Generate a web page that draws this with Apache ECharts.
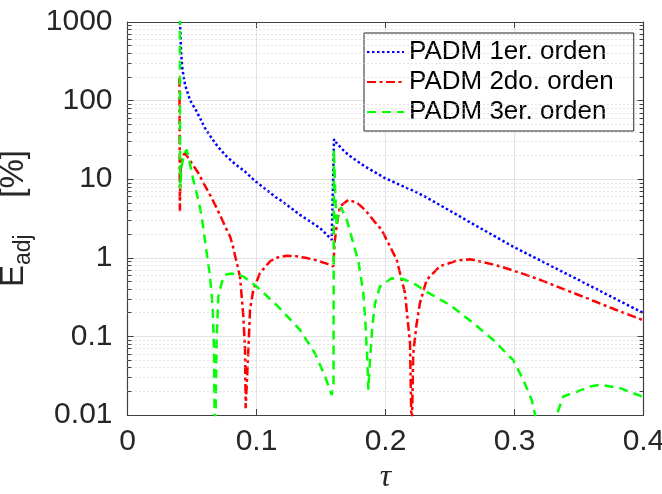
<!DOCTYPE html>
<html><head><meta charset="utf-8">
<script src="https://cdn.jsdelivr.net/npm/echarts@6/dist/echarts.min.js"></script>
<style>html,body{margin:0;padding:0;background:#fff}#c{width:662px;height:494px}</style>
</head><body><div id="c"></div>
<script>
// ---------- data ----------
const seriesNames = ['PADM 1er. orden', 'PADM 2do. orden', 'PADM 3er. orden'];

const blueX = [0.0407, 0.0415, 0.0425, 0.0446, 0.0484, 0.0536, 0.0601, 0.0678, 0.0756, 0.0830, 0.0911, 0.0988, 0.1065, 0.1143, 0.1182, 0.1260, 0.1337, 0.1415, 0.1492, 0.1540, 0.1583, 0.1597,
  0.1601, 0.1620, 0.1660, 0.1712, 0.1780, 0.1841, 0.1920, 0.1996, 0.2110, 0.2229, 0.2319, 0.2500, 0.2758, 0.2988, 0.3250, 0.3500, 0.3750, 0.4000];
const blueY = [1000, 421, 256, 159, 102, 72.7, 44.7, 28.8, 20.4, 15.8, 12.5, 9.5, 7.6, 6.0, 5.47, 4.4, 3.52, 2.9, 2.39, 2.0, 1.69, 1.62,
  32.4, 29, 24.5, 20.4, 17, 14.5, 12.2, 10.3, 8.5, 6.98, 5.85, 3.96, 2.27, 1.39, 0.84, 0.52, 0.32, 0.198];

const redX = [0.0403, 0.0406, 0.0410, 0.0420, 0.0446, 0.0500, 0.0549, 0.0600, 0.0640, 0.0680, 0.0717, 0.0760, 0.0795, 0.0815, 0.0833, 0.0852, 0.0872, 0.0898, 0.0911, 0.0916, 0.0937, 0.0950, 0.0975, 0.1027, 0.1105, 0.1170, 0.1234, 0.1300, 0.1380, 0.1453, 0.1530, 0.1596,
  0.1605, 0.1625, 0.1647, 0.1712, 0.1780, 0.1841, 0.1910, 0.1970, 0.2030, 0.2087, 0.2151, 0.2190, 0.2203, 0.2215, 0.2240, 0.2267, 0.2319, 0.2422, 0.2552, 0.2655, 0.2770, 0.2888, 0.3050, 0.3198, 0.3380, 0.3560, 0.3780, 0.4000];
const redY = [195, 3.9, 12, 19, 21.5, 15.8, 12.0, 8.3, 6.3, 4.7, 3.5, 2.45, 1.87, 1.45, 1.08, 0.80, 0.58, 0.18, 0.068, 0.0122, 0.068, 0.22, 0.39, 0.64, 0.90, 1.02, 1.06, 1.05, 1.0, 0.94, 0.86, 0.78,
  1.54, 2.8, 4.5, 5.47, 5.0, 4.08, 2.95, 2.27, 1.45, 0.94, 0.356, 0.082, 0.005, 0.06, 0.14, 0.265, 0.525, 0.78, 0.92, 0.96, 0.87, 0.78, 0.64, 0.525, 0.40, 0.307, 0.22, 0.16];

const greenX = [0.0406, 0.0408, 0.0420, 0.0440, 0.0459, 0.0480, 0.0510, 0.0549, 0.0575, 0.0614, 0.0640, 0.0660, 0.0671, 0.0678, 0.0691, 0.0704, 0.0730, 0.0756, 0.0808, 0.0898, 0.1001, 0.1157, 0.1337, 0.1453, 0.1531, 0.1583, 0.1597,
  0.1600, 0.1609, 0.1620, 0.1632, 0.1655, 0.1700, 0.1750, 0.1790, 0.1828, 0.1846, 0.1859, 0.1867, 0.1880, 0.1898, 0.1919, 0.1957, 0.2048, 0.2138, 0.2230, 0.2319, 0.2500, 0.2680, 0.2836, 0.2990, 0.3068, 0.3133, 0.3160, 0.3245, 0.3327, 0.3378, 0.3456, 0.3585, 0.3663, 0.3818, 0.4000];
const greenY = [1200, 7.5, 15, 21, 23.7, 17, 9.8, 5.47, 3.35, 1.15, 0.58, 0.24, 0.068, 0.003, 0.09, 0.32, 0.48, 0.61, 0.63, 0.58, 0.43, 0.25, 0.121, 0.061, 0.031, 0.018, 0.025,
  24, 8, 2.5, 3.5, 4.4, 3.04, 1.54, 0.9, 0.356, 0.134, 0.05, 0.021, 0.05, 0.134, 0.265, 0.43, 0.55, 0.536, 0.46, 0.37, 0.25, 0.148, 0.09, 0.05, 0.028, 0.0156, 0.01, 0.002, 0.01, 0.0172, 0.019, 0.023, 0.0242, 0.022, 0.0169];

const xTicks = [0, 0.1, 0.2, 0.3, 0.4];
const yDecades = [0.01, 0.1, 1, 10, 100, 1000];
const minorFactors = [2, 3, 4, 5, 6, 7, 8, 9];
// ------------------------------------------------------------

const zip = (xs, ys) => xs.map((x, i) => [x, ys[i]]);
const minorVals = [];
yDecades.slice(0, -1).forEach(d => minorFactors.forEach(f => minorVals.push(+(d * f).toPrecision(3))));

const xMin = xTicks[0], xMax = xTicks[xTicks.length - 1];
const tickLen = 0.003;

const axisCol = '#404040';
const txtCol = '#262626';
const font = 'Liberation Sans, Arial, Helvetica, sans-serif';

const minorGrid = minorVals.map(v => ({ yAxis: v }));
const minorTicks = [];
minorVals.forEach(v => {
  minorTicks.push([{ coord: [xMin, v] }, { coord: [xMin + tickLen, v] }]);
  minorTicks.push([{ coord: [xMax - tickLen, v] }, { coord: [xMax, v] }]);
});

const chart = echarts.init(document.getElementById('c'), null, { renderer: 'canvas' });
const commonX = { type: 'value', min: xMin, max: xMax, interval: 0.1 };
const commonY = { type: 'log', logBase: 10, min: yDecades[0], max: yDecades[yDecades.length - 1] };

chart.setOption({
  animation: false,
  backgroundColor: '#fff',
  grid: { left: 127.5, right: 18.5, top: 22, bottom: 79, containLabel: false, outerBoundsMode: 'none' },
  legend: {
    show: true,
    data: seriesNames,
    orient: 'vertical',
    left: 364, top: 33,
    backgroundColor: '#fff',
    borderColor: '#262626', borderWidth: 1,
    padding: [4, 20, 4, 2],
    itemWidth: 37, itemHeight: 14, itemGap: 0,
    itemStyle: { opacity: 0, borderWidth: 0 },
    textStyle: { fontFamily: font, fontSize: 26, color: '#000', lineHeight: 30 }
  },
  xAxis: [
    Object.assign({}, commonX, {
      position: 'bottom',
      axisLine: { show: true, onZero: false, lineStyle: { color: axisCol, width: 1.2 } },
      axisTick: { show: true, inside: true, length: 6, lineStyle: { color: axisCol } },
      axisLabel: { fontFamily: font, fontSize: 30, color: txtCol, margin: 12 },
      splitLine: { show: true, lineStyle: { color: '#e3e3e3', width: 1 } },
      name: 'τ', nameLocation: 'middle', nameGap: 46,
      nameTextStyle: { fontFamily: 'Liberation Serif, DejaVu Serif, serif', fontStyle: 'italic', fontSize: 32, color: txtCol }
    }),
    Object.assign({}, commonX, {
      position: 'top',
      axisLine: { show: true, onZero: false, lineStyle: { color: axisCol, width: 1.2 } },
      axisTick: { show: true, inside: true, length: 6, lineStyle: { color: axisCol } },
      axisLabel: { show: false },
      splitLine: { show: false }
    })
  ],
  yAxis: [
    Object.assign({}, commonY, {
      position: 'left',
      axisLine: { show: true, onZero: false, lineStyle: { color: axisCol, width: 1.2 } },
      axisTick: { show: true, inside: true, length: 6, lineStyle: { color: axisCol } },
      axisLabel: { fontFamily: font, fontSize: 30, color: txtCol, margin: 15,
        formatter: v => String(+(+v).toPrecision(2)) },
      splitLine: { show: true, lineStyle: { color: '#e3e3e3', width: 1 } },
      name: '{e|E}{s|adj}{e|    [%]}', nameLocation: 'middle', nameGap: 80, nameRotate: 90,
      nameTextStyle: {
        color: txtCol, fontFamily: font,
        rich: {
          e: { fontSize: 33, fontFamily: font, color: txtCol },
          s: { fontSize: 23, fontFamily: font, color: txtCol, padding: [18, 0, 0, 0] }
        }
      }
    }),
    Object.assign({}, commonY, {
      position: 'right',
      axisLine: { show: true, onZero: false, lineStyle: { color: axisCol, width: 1.2 } },
      axisTick: { show: true, inside: true, length: 6, lineStyle: { color: axisCol } },
      axisLabel: { show: false },
      splitLine: { show: false }
    })
  ],
  series: [
    {
      name: '_grid', type: 'line', data: [], z: 1, silent: true, symbol: 'none',
      markLine: {
        silent: true, symbol: ['none', 'none'], label: { show: false }, animation: false,
        lineStyle: { color: '#c8c8c8', width: 1, type: [1, 3] },
        emphasis: { disabled: true },
        data: minorGrid
      }
    },
    {
      name: '_ticks', type: 'line', data: [], z: 5, silent: true, symbol: 'none',
      markLine: {
        silent: true, symbol: ['none', 'none'], label: { show: false }, animation: false,
        lineStyle: { color: axisCol, width: 1, type: 'solid' },
        emphasis: { disabled: true },
        data: minorTicks
      }
    },
    {
      name: seriesNames[0], type: 'line', data: zip(blueX, blueY), symbol: 'none', z: 3, clip: true,
      lineStyle: { color: '#0000ff', width: 2.5, type: [2.5, 2.5] }, itemStyle: { color: '#0000ff' }
    },
    {
      name: seriesNames[1], type: 'line', data: zip(redX, redY), symbol: 'none', z: 3, clip: true,
      lineStyle: { color: '#ff0000', width: 2.5, type: [9, 3.5, 3, 3.5] }, itemStyle: { color: '#ff0000' }
    },
    {
      name: seriesNames[2], type: 'line', data: zip(greenX, greenY), symbol: 'none', z: 3, clip: true,
      lineStyle: { color: '#00ff00', width: 2.5, type: [9, 6] }, itemStyle: { color: '#00ff00' }
    }
  ]
});
</script>
</body></html>
